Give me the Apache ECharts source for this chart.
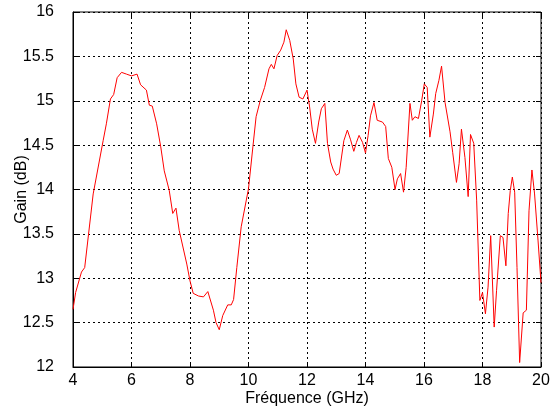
<!DOCTYPE html>
<html>
<head>
<meta charset="utf-8">
<script src="https://cdn.jsdelivr.net/npm/echarts@6/dist/echarts.min.js"></script>
<style>
  html, body { margin: 0; padding: 0; background: #fff; }
  #chart { width: 558px; height: 412px; }
</style>
</head>
<body>
<div id="chart"></div>
<script>
// frequency (GHz) and gain (dB)
const freq = [4.0, 4.09, 4.29, 4.4, 4.69, 5.03, 5.14, 5.28, 5.39, 5.51, 5.66, 5.83, 6.0, 6.19, 6.31, 6.51, 6.61, 6.71, 6.86, 7.0,
  7.12, 7.29, 7.41, 7.52, 7.63, 7.89, 8.0, 8.11, 8.29, 8.46, 8.61, 8.8, 8.89, 9.0, 9.12, 9.29, 9.41, 9.49, 9.6, 9.75,
  10.0, 10.15, 10.26, 10.4, 10.55, 10.7, 10.78, 10.87, 10.98, 11.1, 11.21, 11.29, 11.41, 11.53, 11.62, 11.73, 11.86, 11.92, 12.0, 12.09,
  12.18, 12.29, 12.4, 12.49, 12.61, 12.7, 12.81, 12.89, 13.0, 13.1, 13.26, 13.38, 13.49, 13.6, 13.69, 13.78, 13.9, 14.0, 14.09, 14.17,
  14.29, 14.4, 14.58, 14.69, 14.78, 14.9, 15.01, 15.09, 15.2, 15.3, 15.39, 15.52, 15.6, 15.69, 15.81, 15.92, 16.01, 16.11, 16.2, 16.32,
  16.4, 16.51, 16.6, 16.72, 16.89, 16.98, 17.11, 17.2, 17.28, 17.4, 17.51, 17.59, 17.7, 17.8, 17.91, 18.0, 18.1, 18.19, 18.28, 18.4,
  18.48, 18.61, 18.7, 18.8, 18.88, 18.95, 19.02, 19.1, 19.18, 19.27, 19.39, 19.5, 19.59, 19.69, 19.78, 19.9, 20.0];
const gain = [12.65, 12.84, 13.07, 13.12, 13.95, 14.55, 14.74, 15.02, 15.07, 15.26, 15.32, 15.30, 15.28, 15.30, 15.18, 15.12, 14.95, 14.94, 14.74, 14.48,
  14.21, 13.99, 13.73, 13.79, 13.54, 13.16, 12.97, 12.83, 12.80, 12.79, 12.85, 12.64, 12.50, 12.42, 12.58, 12.70, 12.70, 12.76, 13.12, 13.58,
  14.01, 14.48, 14.82, 15.0, 15.15, 15.36, 15.41, 15.36, 15.51, 15.57, 15.66, 15.80, 15.68, 15.47, 15.19, 15.04, 15.02, 15.03, 15.12, 14.93,
  14.68, 14.52, 14.76, 14.91, 14.97, 14.52, 14.31, 14.23, 14.16, 14.18, 14.55, 14.67, 14.56, 14.43, 14.53, 14.61, 14.53, 14.41, 14.61, 14.83,
  14.98, 14.78, 14.76, 14.71, 14.35, 14.25, 14.0, 14.12, 14.18, 13.97, 14.25, 14.97, 14.78, 14.82, 14.80, 15.0, 15.19, 15.15, 14.59, 14.85,
  15.08, 15.23, 15.39, 14.98, 14.65, 14.42, 14.08, 14.29, 14.68, 14.36, 13.92, 14.62, 14.52, 13.88, 12.75, 12.84, 12.6, 12.90, 13.48, 12.45,
  12.86, 13.48, 13.46, 13.14, 13.73, 13.99, 14.14, 13.97, 13.12, 12.05, 12.61, 12.64, 13.76, 14.22, 13.95, 13.42, 12.95];

const xTicks = [4, 6, 8, 10, 12, 14, 16, 18, 20];
const yTicks = [12, 12.5, 13, 13.5, 14, 14.5, 15, 15.5, 16];

const chart = echarts.init(document.getElementById('chart'));
const font = 'Liberation Sans, Arial, sans-serif';
const gridLine = { show: true, lineStyle: { color: '#000', type: [2, 3], width: 1 } };
const tickIn = { show: true, inside: true, length: 5, lineStyle: { color: '#000' } };

chart.setOption({
  animation: false,
  grid: { left: 73, right: 17, top: 12, bottom: 45, outerBoundsMode: 'none', containLabel: false,
    show: true, borderColor: '#000', borderWidth: 1 },
  xAxis: [{
    type: 'value', min: 4, max: 20, interval: 2,
    name: 'Fréquence (GHz)', nameLocation: 'middle', nameGap: 24, nameMoveOverlap: false,
    nameTextStyle: { color: '#000', fontSize: 16, fontFamily: font },
    axisLine: { show: true, lineStyle: { color: '#000' } },
    axisTick: tickIn,
    axisLabel: { color: '#000', fontSize: 16, fontFamily: font, margin: 6,
      formatter: v => xTicks.includes(v) ? String(v) : '' },
    splitLine: gridLine
  }, {
    type: 'value', min: 4, max: 20, interval: 2, position: 'top',
    axisLine: { show: false }, axisTick: tickIn, axisLabel: { show: false }, splitLine: { show: false }
  }],
  yAxis: [{
    type: 'value', min: 12, max: 16, interval: 0.5,
    name: 'Gain (dB)', nameLocation: 'middle', nameGap: 43, nameMoveOverlap: false,
    nameTextStyle: { color: '#000', fontSize: 16, fontFamily: font },
    axisLine: { show: true, lineStyle: { color: '#000' } },
    axisTick: tickIn,
    axisLabel: { color: '#000', fontSize: 16, fontFamily: font, margin: 19,
      formatter: v => yTicks.includes(v) ? String(v) : '' },
    splitLine: gridLine
  }, {
    type: 'value', min: 12, max: 16, interval: 0.5, position: 'right',
    axisLine: { show: false }, axisTick: tickIn, axisLabel: { show: false }, splitLine: { show: false }
  }],
  series: [{
    type: 'line',
    data: freq.map((f, i) => [f, gain[i]]),
    showSymbol: false,
    lineStyle: { color: '#ff0000', width: 1 },
    itemStyle: { color: '#ff0000' }
  }]
});
</script>
</body>
</html>
